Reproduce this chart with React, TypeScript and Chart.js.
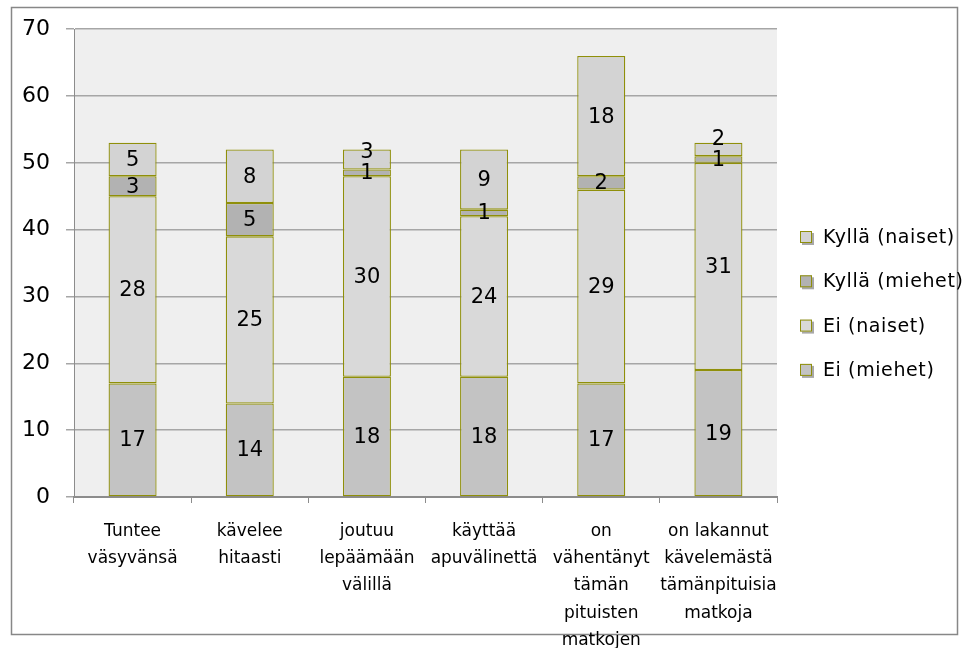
import React, { useEffect, useRef } from 'react';
import { Chart, registerables } from 'chart.js';

Chart.register(...registerables);

const categories: string[][] = [
  ['Tuntee', 'väsyvänsä'],
  ['kävelee', 'hitaasti'],
  ['joutuu', 'lepäämään', 'välillä'],
  ['käyttää', 'apuvälinettä'],
  ['on', 'vähentänyt', 'tämän', 'pituisten', 'matkojen'],
  ['on lakannut', 'kävelemästä', 'tämänpituisia', 'matkoja'],
];

const eiMiehet = [17, 14, 18, 18, 17, 19];
const eiNaiset = [28, 25, 30, 24, 29, 31];
const kyllaMiehet = [3, 5, 1, 1, 2, 1];
const kyllaNaiset = [5, 8, 3, 9, 18, 2];

const seriesNames = ['Ei (miehet)', 'Ei (naiset)', 'Kyllä (miehet)', 'Kyllä (naiset)'];
const seriesColors = ['#c3c3c3', '#d9d9d9', '#b2b2b2', '#d3d3d3'];

const yMin = 0;
const yMax = 70;
const yStep = 10;

const OLIVE = '#8f8f0a';
const FONT = '"DejaVu Sans", sans-serif';

const bgPlugin = {
  id: 'bgPlugin',
  beforeDraw(chart: any) {
    const { ctx, chartArea } = chart;
    ctx.save();
    ctx.fillStyle = '#ffffff';
    ctx.fillRect(0, 0, chart.width, chart.height);
    ctx.strokeStyle = '#878787';
    ctx.lineWidth = 1.5;
    ctx.strokeRect(11.5, 7.5, 946, 627);
    ctx.fillStyle = '#efefef';
    ctx.fillRect(chartArea.left, chartArea.top, chartArea.right - chartArea.left, chartArea.bottom - chartArea.top);
    ctx.restore();
  },
};

const labelPlugin = {
  id: 'labelPlugin',
  afterDatasetsDraw(chart: any) {
    const { ctx } = chart;
    const n = chart.data.labels.length;
    ctx.save();
    ctx.font = `21px ${FONT}`;
    ctx.fillStyle = '#000000';
    ctx.textAlign = 'center';
    ctx.textBaseline = 'middle';
    for (let i = 0; i < n; i++) {
      let prevY = Infinity;
      chart.data.datasets.forEach((ds: any, d: number) => {
        const el = chart.getDatasetMeta(d).data[i];
        if (!el) return;
        let cy = (el.y + el.base) / 2;
        if (prevY - cy < 21) cy = prevY - 21;
        prevY = cy;
        ctx.fillText(String(ds.data[i]), el.x, cy + 1);
      });
    }
    ctx.restore();
  },
};

const legendPlugin = {
  id: 'legendPlugin',
  afterDraw(chart: any) {
    const { ctx } = chart;
    const items = chart.data.datasets.map((ds: any) => ({ label: ds.label, color: ds.backgroundColor })).reverse();
    ctx.save();
    ctx.font = `19px ${FONT}`;
    (ctx as any).letterSpacing = '0.6px';
    ctx.textAlign = 'left';
    ctx.textBaseline = 'middle';
    items.forEach((it: any, k: number) => {
      const cy = 237 + k * 44.3;
      ctx.fillStyle = '#a8a8a8';
      ctx.fillRect(802, cy - 4, 12, 12);
      ctx.fillStyle = it.color;
      ctx.fillRect(800, cy - 6, 12, 12);
      ctx.strokeStyle = OLIVE;
      ctx.lineWidth = 1;
      ctx.strokeRect(800.5, cy - 5.5, 11, 11);
      ctx.fillStyle = '#000000';
      ctx.fillText(it.label, 823, cy + 1);
    });
    ctx.restore();
  },
};

export default function App() {
  const ref = useRef<HTMLCanvasElement | null>(null);
  useEffect(() => {
    if (!ref.current) return;
    const values = [eiMiehet, eiNaiset, kyllaMiehet, kyllaNaiset];
    const chart = new Chart(ref.current, {
      type: 'bar',
      data: {
        labels: categories,
        datasets: seriesNames.map((name, i) => ({
          label: name,
          data: values[i],
          backgroundColor: seriesColors[i],
          borderColor: OLIVE,
          borderWidth: 1.3,
          borderSkipped: false,
          barPercentage: 0.41,
          categoryPercentage: 1,
        })),
      },
      options: {
        responsive: false,
        animation: false,
        devicePixelRatio: 1,
        layout: { padding: { left: 22, top: 22, right: 201, bottom: 0 } },
        plugins: { legend: { display: false }, tooltip: { enabled: false } },
        scales: {
          x: {
            stacked: true,
            offset: true,
            afterFit: (s: any) => { s.height = 151; },
            grid: {
              display: true,
              drawOnChartArea: false,
              drawTicks: true,
              tickLength: 6,
              color: '#8c8c8c',
              offset: true,
            },
            border: { display: true, color: '#8c8c8c', width: 2 },
            ticks: {
              color: '#000000',
              font: { family: FONT, size: 17, lineHeight: 1.6 },
              padding: 15,
              maxRotation: 0,
              autoSkip: false,
            },
          },
          y: {
            stacked: true,
            min: yMin,
            max: yMax,
            afterFit: (s: any) => { s.width = 52; },
            grid: {
              color: '#a6a6a6',
              lineWidth: 1.5,
              drawTicks: true,
              tickLength: 8,
            },
            border: { display: true, color: '#8c8c8c', width: 1 },
            ticks: {
              stepSize: yStep,
              color: '#000000',
              font: { family: FONT, size: 22 },
              padding: 16,
            },
          },
        },
      },
      plugins: [bgPlugin, labelPlugin, legendPlugin],
    });
    return () => chart.destroy();
  }, []);
  return (
    <div style={{ position: 'fixed', left: 0, top: 0, width: 978, height: 648 }}>
      <canvas ref={ref} width={978} height={648} style={{ display: 'block' }} />
    </div>
  );
}
